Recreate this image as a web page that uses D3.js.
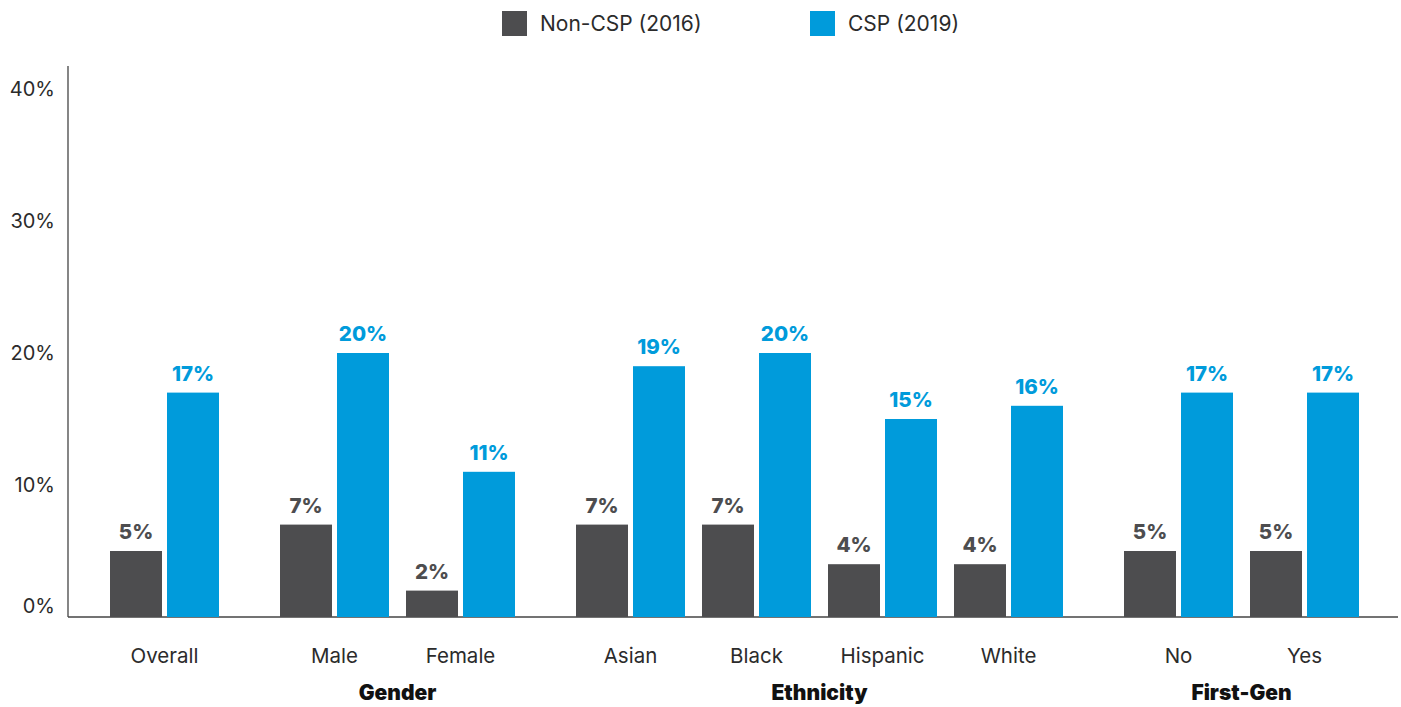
<!DOCTYPE html>
<meta charset="utf-8">
<style>
  body { margin: 0; background: #fff; }
  text { font-family: Inter, "Noto Sans", sans-serif; }
</style>
<body>
<div id="my_dataviz"></div>
<script src="https://d3js.org/d3.v7.min.js"></script>
<script>
// data
var categories = ["Overall", "Male", "Female", "Asian", "Black", "Hispanic", "White", "No", "Yes"];
var groupOf = [null, "Gender", "Gender", "Ethnicity", "Ethnicity", "Ethnicity", "Ethnicity", "First-Gen", "First-Gen"];
var groups = ["Gender", "Ethnicity", "First-Gen"];
var series = ["Non-CSP (2016)", "CSP (2019)"];
var nonCsp2016 = [5, 7, 2, 7, 7, 4, 4, 5, 5];
var csp2019 = [17, 20, 11, 19, 20, 15, 16, 17, 17];
var yTicks = [0, 10, 20, 30, 40];

var colors = ["#4d4d4f", "#009bdb"];

var W = 1401, H = 707;
var svg = d3.select("#my_dataviz").append("svg")
  .attr("width", W).attr("height", H);

// group gap offsets: each new group shifts right
var groupGap = 44;
function groupIndex(i) {
  var g = groupOf[i];
  return g === null ? 0 : groups.indexOf(g) + 1;
}

var x0 = d3.scaleBand().domain(categories).range([101.5, 101.5 + 126 * categories.length]);
var x1 = d3.scaleBand().domain(series).range([8.5, 117.5]).paddingInner(0.0877);
var y = d3.scaleLinear().domain([0, 40]).range([617, 89]);

function cx(i) { return x0(categories[i]) + groupIndex(i) * groupGap; }

// axes lines
svg.append("line").attr("x1", 68).attr("x2", 68).attr("y1", 66).attr("y2", y(0))
  .attr("stroke", "#444").attr("stroke-width", 1.3);
svg.append("line").attr("x1", 68).attr("x2", 1398).attr("y1", y(0)).attr("y2", y(0))
  .attr("stroke", "#444").attr("stroke-width", 1.3);

// y tick labels
svg.append("g").selectAll("text").data(yTicks).enter().append("text")
  .attr("x", 55)
  .attr("y", function (d) { return y(d) + (d === 0 ? -11 : 0); })
  .attr("dy", "0.35em")
  .attr("text-anchor", "end")
  .style("font-size", "20px")
  .style("fill", "#2b2b2b")
  .text(function (d) { return d + "%"; });

// bars
var rows = categories.map(function (c, i) {
  return { i: i, vals: [nonCsp2016[i], csp2019[i]] };
});

var cat = svg.append("g").selectAll("g").data(rows).enter().append("g")
  .attr("transform", function (d) { return "translate(" + cx(d.i) + ",0)"; });

cat.selectAll("rect").data(function (d) { return d.vals.map(function (v, k) { return { v: v, k: k }; }); })
  .enter().append("rect")
  .attr("x", function (d) { return x1(series[d.k]); })
  .attr("width", x1.bandwidth())
  .attr("y", function (d) { return y(d.v); })
  .attr("height", function (d) { return y(0) - y(d.v); })
  .attr("fill", function (d) { return colors[d.k]; });

cat.selectAll("text.val").data(function (d) { return d.vals.map(function (v, k) { return { v: v, k: k }; }); })
  .enter().append("text")
  .attr("class", "val")
  .attr("x", function (d) { return x1(series[d.k]) + x1.bandwidth() / 2; })
  .attr("y", function (d) { return y(d.v) - 12; })
  .attr("text-anchor", "middle")
  .style("font-size", "20.5px")
  .style("font-weight", 800)
  .style("fill", function (d) { return colors[d.k]; })
  .text(function (d) { return d.v + "%"; });

// category labels
cat.append("text")
  .attr("x", x0.bandwidth() / 2)
  .attr("y", 663)
  .attr("text-anchor", "middle")
  .style("font-size", "20.5px")
  .style("fill", "#2b2b2b")
  .text(function (d) { return categories[d.i]; });

// group labels
groups.forEach(function (g) {
  var idx = categories.map(function (c, i) { return i; }).filter(function (i) { return groupOf[i] === g; });
  var first = idx[0], last = idx[idx.length - 1];
  var mid = (cx(first) + cx(last)) / 2 + x0.bandwidth() / 2;
  svg.append("text")
    .attr("x", mid)
    .attr("y", 700)
    .attr("text-anchor", "middle")
    .style("font-size", "21px")
    .style("font-weight", 900)
    .style("fill", "#111")
    .text(g);
});

// legend
var legX = [502, 810];
series.forEach(function (s, k) {
  svg.append("rect").attr("x", legX[k]).attr("y", 11).attr("width", 25).attr("height", 25)
    .attr("fill", colors[k]);
  svg.append("text").attr("x", legX[k] + 38).attr("y", 31)
    .style("font-size", "21px")
    .style("fill", "#2b2b2b")
    .text(s);
});
</script>
</body>
